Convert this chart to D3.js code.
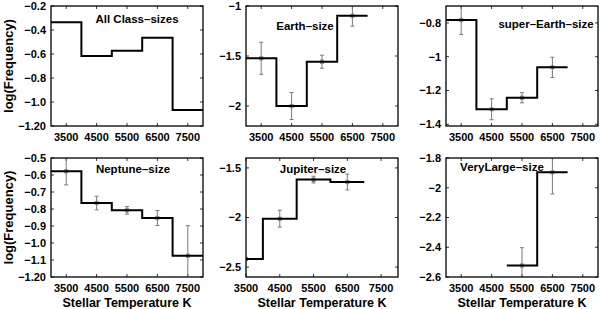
<!DOCTYPE html>
<html>
<head>
<meta charset="utf-8">
<script src="https://cdn.jsdelivr.net/npm/d3@7"></script>
<style>
  body { margin: 0; background: #fff; }
  svg { display: block; font-family: "Liberation Sans", Arial, sans-serif; font-weight: bold; }
</style>
</head>
<body>
<div id="chart-area"></div>
<script>
// bin edges (K) shared by all panels, error bars / markers sit at bin centres
let binEdges = [3000, 4000, 5000, 6000, 7000, 8000];
let binCentres = [3500, 4500, 5500, 6500, 7500];
let xTicks = [3500, 4500, 5500, 6500, 7500];

let titles = ['All Class–sizes', 'Earth–size', 'super–Earth–size', 'Neptune–size', 'Jupiter–size', 'VeryLarge–size'];

// log(Frequency) per bin, null = no data
let allValues = [-0.335, -0.617, -0.572, -0.464, -1.067];
let earthValues = [-1.523, -2.0, -1.557, -1.097, null];
let superEarthValues = [-0.783, -1.311, -1.243, -1.063, null];
let neptuneValues = [-0.578, -0.765, -0.808, -0.853, -1.075];
let jupiterValues = [-2.418, -2.012, -1.618, -1.642, null];
let veryLargeValues = [null, null, -2.523, -1.896, null];

// error bar half widths
let allErr = [null, null, null, null, null];
let earthErr = [0.16, 0.135, 0.065, 0.105, null];
let superEarthErr = [0.085, 0.062, 0.03, 0.06, null];
let neptuneErr = [0.08, 0.04, 0.022, 0.044, 0.177];
let jupiterErr = [0.012, 0.085, 0.034, 0.08, null];
let veryLargeErr = [null, null, 0.12, 0.146, null];

// axis ranges and tick labels
let xDomains = [[3000, 8000], [3000, 8000], [3000, 8000], [3000, 8000], [3500, 8000], [3000, 8000]];
let yDomains = [[-1.2, -0.2], [-2.2, -1], [-1.41, -0.7], [-1.2, -0.5], [-2.6, -1.4], [-2.6, -1.8]];
let yTicks = [
  [-0.2, -0.4, -0.6, -0.8, -1.0, -1.2],
  [-1, -1.5, -2],
  [-0.8, -1, -1.2, -1.4],
  [-0.5, -0.6, -0.7, -0.8, -0.9, -1.0, -1.1, -1.2],
  [-1.5, -2, -2.5],
  [-1.8, -2, -2.2, -2.4, -2.6],
];
let yTickLabels = [
  ['−0.2', '−0.4', '−0.6', '−0.8', '−1.0', '−1.20'],
  ['−1', '−1.5', '−2'],
  ['−0.8', '−1', '−1.2', '−1.4'],
  ['−0.5', '−0.6', '−0.7', '−0.8', '−0.9', '−1.0', '−1.1', '−1.20'],
  ['−1.5', '−2', '−2.5'],
  ['−1.8', '−2', '−2.2', '−2.4', '−2.6'],
];

let values = [allValues, earthValues, superEarthValues, neptuneValues, jupiterValues, veryLargeValues];
let errs = [allErr, earthErr, superEarthErr, neptuneErr, jupiterErr, veryLargeErr];

// layout
let width = 600;
let height = 309;
let colX = [51, 246, 446];
let rowY = [6, 158];
let panelW = 152;
let panelH = [120, 119];
let titlePos = [[86, 17], [59, 24], [100, 22], [82, 15], [67, 15], [56, 13]];
let grey = '#7a7a7a';

let chart = d3
  .select('#chart-area')
  .append('svg')
  .attr('width', width)
  .attr('height', height);

titles.forEach((title, i) => {
  let row = Math.floor(i / 3);
  let col = i % 3;
  let w = panelW;
  let h = panelH[row];

  let x = d3.scaleLinear().domain(xDomains[i]).range([0, w]);
  let y = d3.scaleLinear().domain(yDomains[i]).range([h, 0]);

  let g = chart.append('g').attr('transform', `translate(${colX[col]},${rowY[row]})`);

  g.append('clipPath')
    .attr('id', 'clip' + i)
    .append('rect')
    .attr('width', w)
    .attr('height', h);

  // inward ticks on all four sides
  let tickLen = 3;
  let ticks = g.append('g').attr('stroke', '#000').attr('stroke-width', 0.8);
  xTicks.forEach((t) => {
    ticks.append('line').attr('x1', x(t)).attr('x2', x(t)).attr('y1', h).attr('y2', h - tickLen);
    ticks.append('line').attr('x1', x(t)).attr('x2', x(t)).attr('y1', 0).attr('y2', tickLen);
  });
  yTicks[i].forEach((t) => {
    ticks.append('line').attr('x1', 0).attr('x2', tickLen).attr('y1', y(t)).attr('y2', y(t));
    ticks.append('line').attr('x1', w).attr('x2', w - tickLen).attr('y1', y(t)).attr('y2', y(t));
  });

  // tick labels
  g.append('g')
    .selectAll('text')
    .data(xTicks)
    .enter()
    .append('text')
    .attr('x', (d) => x(d))
    .attr('y', h + 14.5)
    .attr('text-anchor', 'middle')
    .style('font-size', '11px')
    .text((d) => d);

  g.append('g')
    .selectAll('text')
    .data(yTicks[i])
    .enter()
    .append('text')
    .attr('x', -5)
    .attr('y', (d) => y(d))
    .attr('dy', '0.35em')
    .attr('text-anchor', 'end')
    .style('font-size', '11px')
    .text((d, k) => yTickLabels[i][k]);

  let data = g.append('g').attr('clip-path', `url(#clip${i})`);

  // error bars + markers
  let vals = values[i];
  let err = errs[i];
  let eb = data.append('g').attr('stroke', grey).attr('stroke-width', 1).attr('fill', 'none');
  vals.forEach((v, k) => {
    if (v === null || err[k] === null) return;
    let cx = x(binCentres[k]);
    let top = y(v + err[k]);
    let bot = y(v - err[k]);
    eb.append('line').attr('x1', cx).attr('x2', cx).attr('y1', top).attr('y2', bot);
    eb.append('line').attr('x1', cx - 2).attr('x2', cx + 2).attr('y1', top).attr('y2', top);
    eb.append('line').attr('x1', cx - 2).attr('x2', cx + 2).attr('y1', bot).attr('y2', bot);
    let cy = y(v);
    let s = 2.5;
    eb.append('path')
      .attr('stroke-width', 1.1)
      .attr('d', `M${cx - s},${cy}H${cx + s}M${cx},${cy - s}V${cy + s}M${cx - s * 0.75},${cy - s * 0.75}L${cx + s * 0.75},${cy + s * 0.75}M${cx - s * 0.75},${cy + s * 0.75}L${cx + s * 0.75},${cy - s * 0.75}`);
  });

  // step line, one run of consecutive bins
  let pts = [];
  vals.forEach((v, k) => {
    if (v === null) return;
    pts.push([binEdges[k], v]);
    if (k === vals.length - 1 || vals[k + 1] === null) pts.push([binEdges[k + 1], v]);
  });
  data.append('path')
    .attr('d', d3.line().x((d) => x(d[0])).y((d) => y(d[1])).curve(d3.curveStepAfter)(pts))
    .attr('fill', 'none')
    .attr('stroke', '#000')
    .attr('stroke-width', 2);

  // frame
  g.append('rect')
    .attr('width', w)
    .attr('height', h)
    .attr('fill', 'none')
    .attr('stroke', '#000')
    .attr('stroke-width', 1.3);

  // panel title
  g.append('text')
    .attr('x', titlePos[i][0])
    .attr('y', titlePos[i][1])
    .attr('text-anchor', 'middle')
    .style('font-size', '11.5px')
    .text(title);

  if (col === 0) {
    g.append('text')
      .attr('transform', `translate(${8 - colX[0]},${h / 2}) rotate(-90)`)
      .attr('dy', '0.35em')
      .attr('text-anchor', 'middle')
      .style('font-size', '13px')
      .text('log(Frequency)');
  }
  if (row === 1) {
    g.append('text')
      .attr('x', w / 2)
      .attr('y', h + 29.5)
      .attr('text-anchor', 'middle')
      .style('font-size', '12.5px')
      .text('Stellar Temperature K');
  }
});
</script>
</body>
</html>
